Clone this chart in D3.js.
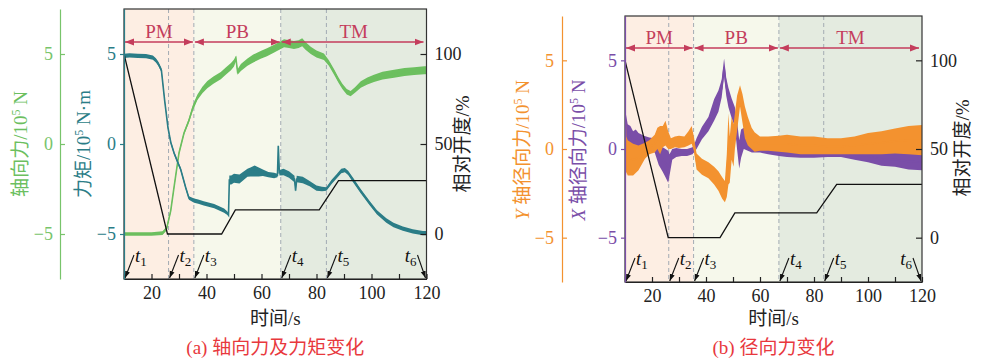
<!DOCTYPE html>
<html>
<head>
<meta charset="utf-8">
<script src="https://cdn.jsdelivr.net/npm/d3@7"></script>
<style>
  body { margin: 0; background: #fff; }
  svg text { font-family: "Liberation Serif", "Times New Roman", "Noto Sans CJK SC", serif; }
</style>
</head>
<body>
<svg id="chart" width="983" height="358"></svg>
<script>
// ---- shared time axis / phases ----
const xTicks = [10, 20, 30, 40, 50, 60, 70, 80, 90, 100, 110, 120];
const xLabels = [20, 40, 60, 80, 100, 120];
const forceTicks = [-5, 0, 5];
const openTicks = [0, 50, 100];
const phaseNames = ['PM', 'PB', 'TM'];
const phaseEdges = [10, 35.4, 67, 120];
const markTimes = [10, 26.2, 35.4, 67, 83.6, 120];
const markNames = ['1', '2', '3', '4', '5', '6'];
const dashTimes = [26.2, 35.4, 67, 83.6];

// ---- (a) axial force, torque ----
const axialT = [10, 15, 20, 24, 25.5, 27, 28.2, 30, 31.8, 33.6, 35, 36.7, 38.5, 40.3, 42.5, 45.2, 47, 48.9, 50, 50.7, 51.3, 52.5, 54.9, 57, 59.7, 62, 64.6, 66.5, 68.2, 70, 71.8, 73.5, 74.8, 76, 77.9, 80, 82.7, 84.5, 86.4, 88, 89.4, 91, 92.4, 94, 96.1, 98.5, 100.9, 104, 108.2, 112, 115.5, 119.2, 120];
const axialV = [-5, -5, -5, -4.95, -4.7, -3.7, -2.4, -0.5, 0.6, 1.3, 2.0, 2.6, 3.0, 3.3, 3.55, 3.8, 4.05, 4.3, 4.5, 4.75, 4.0, 4.25, 4.55, 4.75, 4.95, 5.1, 5.3, 5.45, 5.6, 5.55, 5.5, 5.55, 5.65, 5.45, 5.2, 5.0, 4.85, 4.5, 4.0, 3.55, 3.2, 2.9, 2.8, 3.0, 3.3, 3.5, 3.65, 3.8, 3.9, 4.0, 4.05, 4.1, 4.1];
const axialS = [0.1, 0.1, 0.1, 0.1, 0.1, 0.1, 0.1, 0.1, 0.1, 0.12, 0.15, 0.15, 0.18, 0.2, 0.2, 0.2, 0.2, 0.2, 0.2, 0.15, 0.15, 0.2, 0.2, 0.22, 0.22, 0.22, 0.22, 0.22, 0.22, 0.22, 0.22, 0.22, 0.22, 0.22, 0.2, 0.2, 0.18, 0.15, 0.15, 0.15, 0.15, 0.15, 0.15, 0.15, 0.18, 0.2, 0.2, 0.22, 0.22, 0.22, 0.22, 0.22, 0.22];

const torqueT = [10, 12, 15, 18, 20.5, 21.6, 22.5, 23.6, 24.8, 26, 27, 28.2, 29.5, 30.6, 31.5, 32.4, 33.6, 35.5, 37, 39, 42.8, 45, 46.4, 47.6, 48.0, 48.3, 49, 50, 52, 54.9, 56, 57.5, 59, 60.5, 62.5, 64.6, 65.8, 66.1, 66.5, 68, 70, 72, 72.4, 72.8, 75, 77.5, 80, 82, 83.6, 85.5, 87.3, 89, 90.3, 91.5, 93.3, 96, 99.4, 102, 105.4, 108, 111.4, 115, 118.7, 120];
const torqueV = [4.9, 4.92, 4.9, 4.88, 4.8, 4.65, 4.45, 4.1, 2.4, 0.9, 0.1, -0.5, -1.0, -1.4, -1.9, -2.4, -3.0, -3.15, -3.2, -3.3, -3.45, -3.6, -3.7, -3.85, -3.95, -2.0, -2.0, -1.9, -1.95, -1.6, -1.55, -1.5, -1.55, -1.6, -1.7, -1.75, -1.75, -0.1, -1.6, -1.55, -1.7, -1.95, -2.6, -1.95, -2.0, -2.2, -2.45, -2.5, -2.5, -2.1, -1.8, -1.5, -1.45, -1.6, -2.0, -2.6, -3.3, -3.8, -4.25, -4.5, -4.7, -4.85, -4.95, -4.95];
const torqueS = [0.12, 0.12, 0.12, 0.12, 0.12, 0.12, 0.12, 0.12, 0.1, 0.1, 0.1, 0.1, 0.1, 0.1, 0.1, 0.1, 0.1, 0.12, 0.12, 0.12, 0.12, 0.12, 0.12, 0.1, 0.05, 0.25, 0.25, 0.25, 0.25, 0.22, 0.25, 0.3, 0.25, 0.18, 0.15, 0.15, 0.1, 0.05, 0.15, 0.18, 0.18, 0.18, 0.05, 0.18, 0.18, 0.15, 0.15, 0.12, 0.1, 0.12, 0.12, 0.12, 0.12, 0.12, 0.12, 0.12, 0.12, 0.12, 0.12, 0.12, 0.12, 0.12, 0.12, 0.12];

const openLT = [10, 25.8, 45.5, 50.5, 81, 88, 120];
const openLV = [100, 0, 0, 13.4, 13.4, 29.6, 29.6];

// ---- (b) radial forces ----
const radYT = [10, 10.2, 10.5, 11, 13, 15, 17.4, 19, 21, 22, 23, 24, 25, 26, 27, 28.5, 30, 32, 33.5, 34.7, 35.5, 36.5, 38.5, 40.9, 43, 44.6, 46, 47, 47.7, 48.3, 48.8, 49.5, 50.2, 50.7, 51.5, 52.6, 53.5, 54.4, 55.5, 56.9, 58, 60, 63, 67, 70, 75, 80, 85, 90, 95, 100, 105, 110, 115, 120];
const radYV = [0, 0.6, -0.3, -0.5, -0.6, -0.5, -0.1, 0.1, 0.3, 0.6, 0.5, 0.7, 0.9, 0.5, 0.3, 0.4, 0.4, 0.4, 0.6, 0.8, 0.3, -0.7, -1.0, -1.2, -1.5, -1.8, -2.2, -2.4, -1.5, 0, -0.6, 0.6, 0.2, 1.0, 2.0, 3.0, 2.3, 1.5, 1.0, 0.6, 0.4, 0.3, 0.3, 0.3, 0.3, 0.2, 0.2, 0.15, 0.15, 0.2, 0.3, 0.35, 0.45, 0.5, 0.5];
const radYS = [0.8, 2.4, 1.0, 1.0, 0.9, 0.7, 0.45, 0.4, 0.5, 0.6, 0.8, 0.6, 0.7, 0.5, 0.3, 0.3, 0.35, 0.3, 0.4, 0.5, 0.4, 0.45, 0.45, 0.45, 0.5, 0.55, 0.6, 0.6, 1.2, 2.0, 1.3, 1.2, 1.2, 1.0, 1.0, 0.6, 0.8, 0.9, 0.8, 0.6, 0.55, 0.4, 0.4, 0.45, 0.5, 0.5, 0.5, 0.45, 0.45, 0.5, 0.6, 0.65, 0.7, 0.8, 0.85];

const radXT = [10, 10.3, 11, 12, 13, 14, 15, 17, 19, 21, 22.5, 24, 25, 26, 26.5, 27.5, 29, 31, 33, 35, 35.5, 36.5, 38.5, 40.9, 43, 44.6, 45.8, 46.7, 47.5, 48.3, 49.5, 50.7, 51.5, 52.3, 53, 54, 55.5, 57, 60, 63, 67, 70, 75, 80, 85, 90, 95, 100, 105, 110, 115, 120];
const radXV = [0.6, 1.2, 0.9, 0.8, 0.5, 0.6, 0.5, 0.4, 0.3, 0.2, -0.4, -0.6, -0.8, -1.0, -0.9, -0.3, -0.2, -0.2, -0.2, -0.1, 0.0, 0.3, 0.9, 1.4, 2.2, 2.7, 3.4, 4.6, 3.5, 2.9, 2.3, 1.8, 0.8, -0.3, 0.3, 0.6, 0.3, 0.1, 0.1, 0.0, -0.1, -0.15, -0.2, -0.2, -0.2, -0.2, -0.3, -0.4, -0.55, -0.6, -0.7, -0.75];
const radXS = [0.4, 0.8, 0.5, 0.5, 0.5, 0.5, 0.4, 0.35, 0.35, 0.4, 0.5, 0.7, 0.8, 0.9, 0.6, 0.3, 0.25, 0.2, 0.2, 0.2, 0.2, 0.3, 0.35, 0.4, 0.6, 0.6, 0.5, 0.5, 0.5, 0.55, 0.55, 0.55, 0.8, 0.8, 0.8, 0.6, 0.4, 0.3, 0.3, 0.3, 0.3, 0.3, 0.3, 0.3, 0.25, 0.25, 0.3, 0.35, 0.4, 0.4, 0.45, 0.45];

const openRT = [10, 26, 45.2, 50.7, 81, 88.4, 120];
const openRV = [100, 0, 0, 14, 14, 30, 30];

// ---- colours ----
const phaseFill = ['#fdeee3', '#f6f8eb', '#e4ebe0'];
const phaseRed = '#c43d5c';
const green = '#6cbf5f', teal = '#2b7d87', orange = '#f3922f', purple = '#7a4ea8';

const svg = d3.select('#chart');
const defs = svg.append('defs');
defs.append('marker').attr('id', 'redHead')
  .attr('viewBox', '0 -4 9 8').attr('refX', 9).attr('refY', 0)
  .attr('markerWidth', 9).attr('markerHeight', 8).attr('markerUnits', 'userSpaceOnUse')
  .attr('orient', 'auto-start-reverse')
  .append('path').attr('d', 'M0,-3.5L9,0L0,3.5Z').attr('fill', phaseRed);
defs.append('marker').attr('id', 'blackHead')
  .attr('viewBox', '0 -3 7 6').attr('refX', 7).attr('refY', 0)
  .attr('markerWidth', 7).attr('markerHeight', 6).attr('markerUnits', 'userSpaceOnUse')
  .attr('orient', 'auto')
  .append('path').attr('d', 'M0,-2.5L7,0L0,2.5Z').attr('fill', '#111');

const zip = (T, V, S) => T.map((t, i) => ({ t, v: V[i], s: S ? S[i] : 0 }));

function styleAxis(sel, color) {
  sel.selectAll('path, line').attr('stroke', color).attr('stroke-width', 1.2);
  sel.selectAll('text').attr('fill', color).style('font-size', '18px');
}

function rotLabel(parts, x, y, color) {
  const t = svg.append('text')
    .attr('transform', `translate(${x},${y}) rotate(-90)`)
    .attr('text-anchor', 'middle').attr('dy', '0.35em')
    .attr('fill', color).style('font-size', '19px');
  parts.forEach(p => {
    const s = t.append('tspan').text(p.text);
    if (p.italic) s.style('font-style', 'italic');
    if (p.sup) s.attr('dy', -7).style('font-size', '12px');
    if (p.down) s.attr('dy', 7);
  });
}

function drawPanel(p) {
  const x = d3.scaleLinear().domain([10, 120]).range([p.left, p.right]);
  const y = d3.scaleLinear().domain([-7.5, 7.5]).range([p.bottom, p.top]);
  const yOpen = d3.scaleLinear().domain([-25, 125]).range([p.bottom, p.top]);
  const g = svg.append('g');

  // phase backgrounds
  g.selectAll('rect.phase').data(phaseNames).enter().append('rect')
    .attr('x', (d, i) => x(phaseEdges[i]))
    .attr('width', (d, i) => x(phaseEdges[i + 1]) - x(phaseEdges[i]))
    .attr('y', p.top).attr('height', p.bottom - p.top)
    .attr('fill', (d, i) => phaseFill[i]);

  g.selectAll('line.dash').data(dashTimes).enter().append('line')
    .attr('x1', d => x(d)).attr('x2', d => x(d))
    .attr('y1', p.top).attr('y2', p.bottom)
    .attr('stroke', '#a3abb3').attr('stroke-width', 1).attr('stroke-dasharray', '4,3');

  const clipId = 'clip' + p.id;
  defs.append('clipPath').attr('id', clipId).append('rect')
    .attr('x', p.left).attr('y', p.top).attr('width', p.right - p.left).attr('height', p.bottom - p.top);
  const plot = g.append('g').attr('clip-path', `url(#${clipId})`);

  // noisy signals drawn as bands
  const band = d3.area().x(d => x(d.t)).y0(d => y(d.v - d.s)).y1(d => y(d.v + d.s));
  const mid = d3.line().x(d => x(d.t)).y(d => y(d.v));
  p.series.forEach(s => {
    plot.append('path').datum(s.data).attr('d', band).attr('fill', s.color);
    plot.append('path').datum(s.data).attr('d', mid)
      .attr('fill', 'none').attr('stroke', s.color).attr('stroke-width', 1.6);
  });

  // relative opening
  plot.append('path').datum(p.open)
    .attr('d', d3.line().x(d => x(d.t)).y(d => yOpen(d.v)))
    .attr('fill', 'none').attr('stroke', '#111').attr('stroke-width', 1.3);

  // phase arrows
  const ay = p.top + p.arrowOff;
  phaseNames.forEach((n, i) => {
    const xa = x(phaseEdges[i]) + 1, xb = x(phaseEdges[i + 1]) - (i === 2 ? 3 : 1);
    g.append('line').attr('x1', xa).attr('x2', xb).attr('y1', ay).attr('y2', ay)
      .attr('stroke', phaseRed).attr('stroke-width', 1.4)
      .attr('marker-start', 'url(#redHead)').attr('marker-end', 'url(#redHead)');
    g.append('text').attr('x', (x(phaseEdges[i]) + x(phaseEdges[i + 1])) / 2).attr('y', ay - 4)
      .attr('text-anchor', 'middle').attr('fill', phaseRed).style('font-size', '19px').text(n);
  });

  // t markers
  markTimes.forEach((t, i) => {
    const last = i === markTimes.length - 1;
    const xt = x(t);
    const sx = last ? xt - 9 : xt + 10;
    g.append('line').attr('x1', sx).attr('y1', p.bottom - 24)
      .attr('x2', last ? xt - 1 : xt + 1).attr('y2', p.bottom - 1)
      .attr('stroke', '#111').attr('stroke-width', 1.1).attr('marker-end', 'url(#blackHead)');
    const lab = g.append('text')
      .attr('x', last ? xt - 10 : xt + 11).attr('y', p.bottom - 17)
      .attr('text-anchor', last ? 'end' : 'start').attr('fill', '#111').style('font-size', '19px');
    lab.append('tspan').text('t').style('font-style', 'italic');
    lab.append('tspan').text(markNames[i]).attr('dy', 4).style('font-size', '13px');
  });

  // frame
  g.append('rect').attr('x', p.left).attr('y', p.top)
    .attr('width', p.right - p.left).attr('height', p.bottom - p.top)
    .attr('fill', 'none').attr('stroke', '#333').attr('stroke-width', 1.2);

  // x axis
  const ax = g.append('g').attr('transform', `translate(0,${p.bottom})`)
    .call(d3.axisBottom(x).tickValues(xTicks)
      .tickFormat(d => xLabels.includes(d) ? d : '')
      .tickSizeInner(-5).tickSizeOuter(0).tickPadding(7));
  styleAxis(ax, '#222');

  // opening axis (right)
  const ar = g.append('g').attr('transform', `translate(${p.right},0)`)
    .call(d3.axisRight(yOpen).tickValues(openTicks).tickSizeInner(-6).tickSizeOuter(0).tickPadding(8));
  styleAxis(ar, '#222');
  ar.select('.domain').remove();

  // force axes (left)
  p.axes.forEach(a => {
    const sel = g.append('g').attr('transform', `translate(${a.x},0)`)
      .call(d3.axisLeft(y).tickValues(forceTicks).tickSizeInner(a.inner).tickSizeOuter(0).tickPadding(a.pad));
    styleAxis(sel, a.color);
  });

  // titles
  g.append('text').attr('x', (p.left + p.right) / 2).attr('y', 325)
    .attr('text-anchor', 'middle').attr('fill', '#222').style('font-size', '19px').text('时间/s');
  g.append('text').attr('x', (p.left + p.right) / 2).attr('y', 354)
    .attr('text-anchor', 'middle').attr('fill', '#e8383d').style('font-size', '19px').text(p.caption);
}

drawPanel({
  id: 'a', left: 124, right: 426.5, top: 9, bottom: 279, arrowOff: 33,
  series: [
    { data: zip(axialT, axialV, axialS), color: green },
    { data: zip(torqueT, torqueV, torqueS), color: teal }
  ],
  open: zip(openLT, openLV),
  axes: [
    { x: 60, inner: -5, pad: 7, color: '#78c46b' },
    { x: 124, inner: 4, pad: 4, color: teal }
  ],
  caption: '(a) 轴向力及力矩变化'
});

drawPanel({
  id: 'b', left: 625, right: 922, top: 16, bottom: 282, arrowOff: 32,
  series: [
    { data: zip(radXT, radXV, radXS), color: purple },
    { data: zip(radYT, radYV, radYS), color: orange }
  ],
  open: zip(openRT, openRV),
  axes: [
    { x: 562, inner: -5, pad: 8, color: orange },
    { x: 625, inner: 4, pad: 4, color: purple }
  ],
  caption: '(b) 径向力变化'
});

// axis titles
rotLabel([{ text: '轴向力/10' }, { text: '5', sup: true }, { text: ' N', down: true }], 20, 144, '#6cbf5f');
rotLabel([{ text: '力矩/10' }, { text: '5', sup: true }, { text: ' N·m', down: true }], 83, 144, teal);
rotLabel([{ text: '相对开度/%' }], 462, 144, '#222');
rotLabel([{ text: 'Y', italic: true }, { text: ' 轴径向力/10' }, { text: '5', sup: true }, { text: ' N', down: true }], 522, 150, orange);
rotLabel([{ text: 'X', italic: true }, { text: ' 轴径向力/10' }, { text: '5', sup: true }, { text: ' N', down: true }], 578, 150, purple);
rotLabel([{ text: '相对开度/%' }], 962, 148, '#222');
</script>
</body>
</html>
